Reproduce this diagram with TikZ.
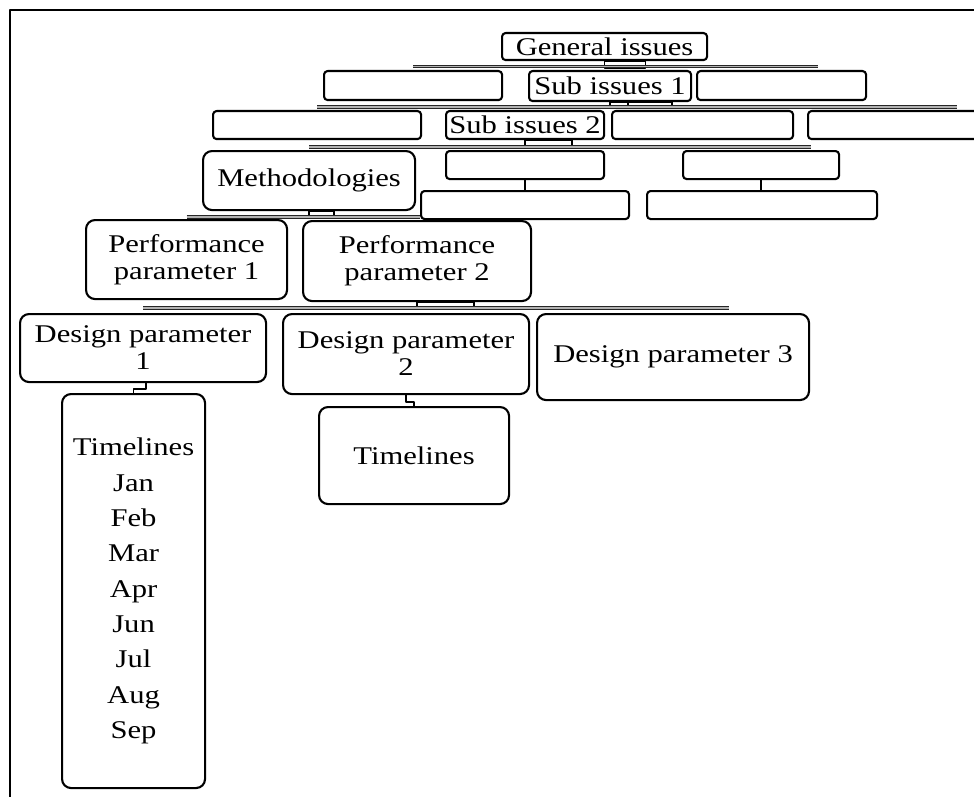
\documentclass[tikz,border=0pt]{standalone}
\usepackage{fontspec}
\newfontfamily\orgfont[FakeStretch=1.2]{Liberation Serif}
\newcommand{\orgtext}{\orgfont\fontsize{25.5}{27}\selectfont}
\newcommand{\monthtext}{\orgfont\fontsize{25.5}{35.3}\selectfont}
\usetikzlibrary{calc}

\tikzset{
  orgbox/.style={draw, line width=2.1pt, rounded corners=3.5pt, anchor=north west,
    inner sep=0pt, align=center, font=\orgtext},
  bigbox/.style={orgbox, rounded corners=9pt},
  link/.style={line width=1.5pt},
  bus/.style={draw=black!85, double=gray!60, double distance=1.4pt, line width=1pt},
}

\begin{document}
\begin{tikzpicture}[x=1pt, y=-1pt, line join=round]
  \useasboundingbox (0,0) rectangle (974,797);
  \clip (0,0) rectangle (974,797);

  % frame
  \draw[line width=1.8pt] (10,797) -- (10,10) -- (974,10);

  % top levels
  \node[orgbox, minimum width=205pt, minimum height=27pt] (gi) at (501,32) {General issues};
  \node[orgbox, minimum width=178pt, minimum height=29pt] (r2a) at (323,70) {};
  \node[orgbox, minimum width=162pt, minimum height=30pt] (si1) at (528,70) {Sub issues 1};
  \node[orgbox, minimum width=169pt, minimum height=29pt] (r2b) at (696,70) {};

  \node[orgbox, minimum width=208pt, minimum height=28pt] (r3a) at (212,110) {};
  \node[orgbox, minimum width=158pt, minimum height=28pt] (si2) at (445,110) {Sub issues 2};
  \node[orgbox, minimum width=181pt, minimum height=28pt] (r3b) at (611,110) {};
  \node[orgbox, minimum width=200pt, minimum height=28pt] (r3c) at (807,110) {};

  % below sub issues 2
  \node[bigbox, minimum width=212pt, minimum height=59pt] (meth) at (202,150) {Methodologies};
  \node[orgbox, minimum width=158pt, minimum height=28pt] (r4a) at (445,150) {};
  \node[orgbox, minimum width=156pt, minimum height=28pt] (r4b) at (682,150) {};
  \node[orgbox, minimum width=208pt, minimum height=28pt] (r5a) at (420,190) {};
  \node[orgbox, minimum width=230pt, minimum height=28pt] (r5b) at (646,190) {};

  % parameters
  \node[bigbox, minimum width=201pt, minimum height=79pt] (pp1) at (85,219) {Performance\\parameter 1};
  \node[bigbox, minimum width=228pt, minimum height=80pt] (pp2) at (302,220) {Performance\\parameter 2};
  \node[bigbox, minimum width=246pt, minimum height=68pt] (dp1) at (19,313) {Design parameter\\1};
  \node[bigbox, minimum width=246pt, minimum height=80pt] (dp2) at (282,313) {Design parameter\\2};
  \node[bigbox, minimum width=272pt, minimum height=86pt] (dp3) at (536,313) {Design parameter 3};

  % timelines
  \node[bigbox, font=\monthtext, minimum width=143pt, minimum height=394pt] (tl1) at (61,393)
    {Timelines\\Jan\\Feb\\Mar\\Apr\\Jun\\Jul\\Aug\\Sep};
  \node[bigbox, minimum width=190pt, minimum height=97pt] (tl2) at (318,406) {Timelines};

  % general issues to level 1
  \coordinate (busA) at (818,66.5);
  \draw[link] (gi.south) rectangle ++(41,7);
  \draw[bus] (r2a.north |- busA) -- (busA);

  % sub issues 1 to level 2
  \coordinate (busB) at (957,107);
  \draw[link] (si1.south) rectangle ++(62,5);
  \draw[link] (si1.south) ++(18,0) -- ++(0,5);
  \draw[bus] (r3a.north |- busB) -- (busB);

  % sub issues 2 to level 3
  \coordinate (busC) at (811,147);
  \draw[link] (si2.south) rectangle ++(47,8);
  \draw[bus] (meth.north |- busC) -- (busC);
  \draw[link] (r4a.south) -- (r4a.south |- r5a.north);
  \draw[link] (r4b.south) -- (r4b.south |- r5b.north);

  % methodologies
  \coordinate (busD) at (420,217);
  \draw[link] (meth.south) rectangle ++(25,7);
  \draw[bus] (pp1.north |- busD) -- (busD);

  % performance parameter 2
  \coordinate (busE) at (729,308);
  \draw[link] (pp2.south) rectangle ++(57,7);
  \draw[bus] (dp1.north |- busE) -- (busE);

  % design parameters to timelines
  \draw[link] ([xshift=3pt]dp1.south) -- ++(0,6) -| (tl1.north);
  \draw[link] (dp2.south) -- ++(0,7) -| (tl2.north);
\end{tikzpicture}
\end{document}
